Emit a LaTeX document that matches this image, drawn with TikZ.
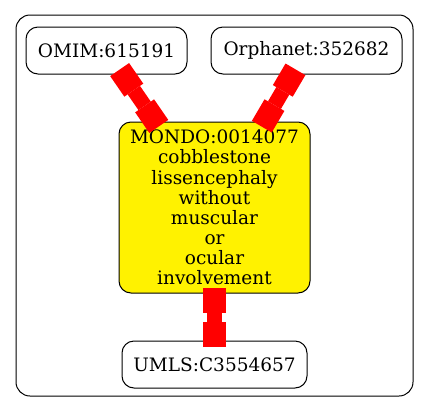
\documentclass[tikz,border=0pt]{standalone}
\usepackage{fontspec}
\setmainfont{DejaVu Serif}
\usetikzlibrary{arrows.meta}
\begin{document}
\begin{tikzpicture}[x=1pt,y=-1pt,
  term/.style={draw=black, line width=1pt, rounded corners=12pt, inner sep=0pt,
    font=\fontsize{18.5}{20.1}\selectfont, align=center},
  boxtip/.tip={Rectangle[length=25pt,width=23pt,line width=0pt]},
  link/.style={draw=red, line width=15pt, shorten <=-6pt, shorten >=-6pt, boxtip-boxtip}
]
\useasboundingbox (0,0) rectangle (429,416);
% enclosing frame
\draw[line width=1pt, rounded corners=14pt] (16,15) rectangle (413,396);
% terms
\node[term, minimum width=161pt, minimum height=47pt] (omim) at (106.5,50.5) {OMIM:615191};
\node[term, minimum width=191pt, minimum height=47pt] (orpha) at (306.5,50.5) {Orphanet:352682};
\node[term, fill=yellow, minimum width=191pt, minimum height=171pt] (mondo) at (214.5,207.5)
  {MONDO:0014077\\cobblestone\\lissencephaly\\without\\muscular\\or\\ocular\\involvement};
\node[term, minimum width=185pt, minimum height=47pt] (umls) at (214.5,364.5) {UMLS:C3554657};
% links
\draw[link] (omim) -- (mondo);
\draw[link] (orpha) -- (mondo);
\draw[link] (mondo) -- (umls);
\end{tikzpicture}
\end{document}
